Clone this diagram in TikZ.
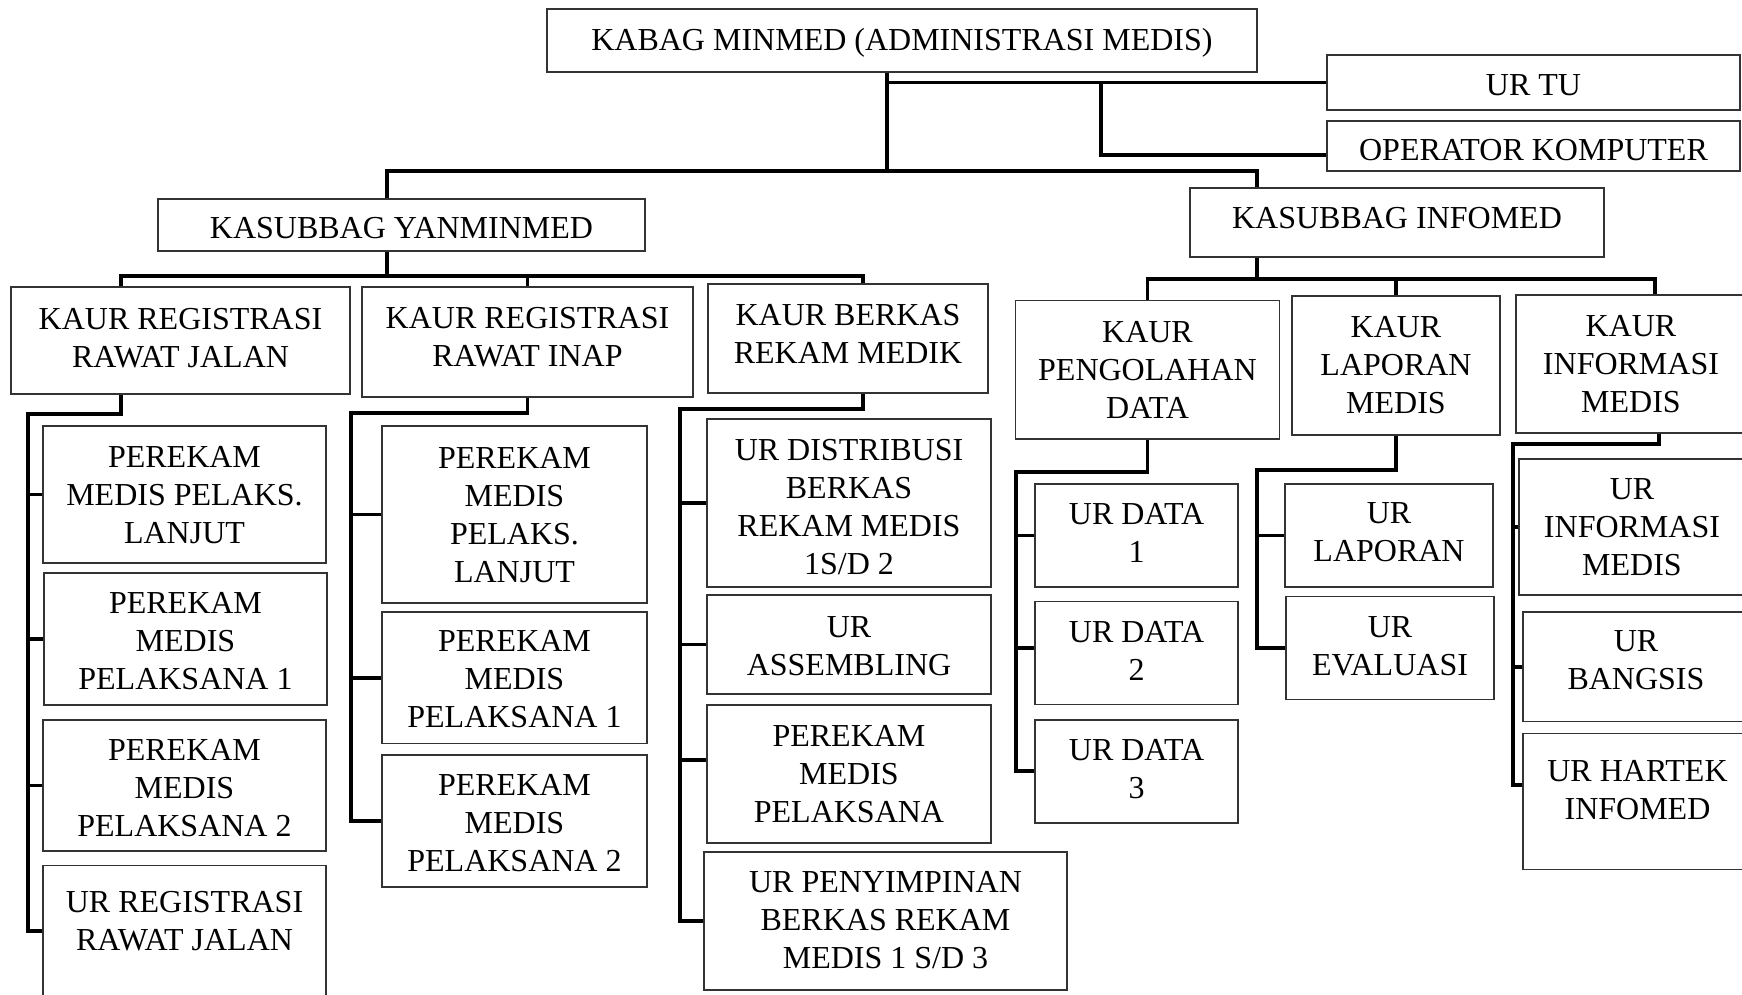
\documentclass[tikz,border=0pt]{standalone}
\usepackage{fontspec}
\setmainfont{Liberation Serif}
\begin{document}
% Unit: one step = 0.5pt, y grows downward
\tikzset{
  box/.style={draw=black!80, line width=0.7pt, inner sep=0pt,
    font=\rmfamily\fontsize{16}{19}\selectfont},
  conn/.style={line width=1.9pt, line join=miter}
}
% \orgbox{name}{x1}{y1}{x2}{y2}{text shift down}{lines}
\newcommand{\orgbox}[7]{%
  \node[box, minimum width={((#4)-(#2))*0.5pt}, minimum height={((#5)-(#3))*0.5pt}]
    (#1) at ({((#2)+(#4))/2},{((#3)+(#5))/2})
    {\raisebox{\fpeval{-((#6)+2.9)*0.5}pt}[\height][\depth]{\begin{tabular}{@{}c@{}}#7\end{tabular}}};%
}
\begin{tikzpicture}[x=0.5pt, y=-0.5pt]
\useasboundingbox (0,0) rectangle (1742,995);
\fill[white] (0,0) rectangle (1742,995);

% top level
\orgbox{kabag}{547}{9}{1257}{72}{0}{KABAG MINMED (ADMINISTRASI MEDIS)}
\orgbox{urtu}{1327}{55}{1740}{110}{2.5}{UR TU}
\orgbox{op}{1327}{121}{1740}{171}{4}{OPERATOR KOMPUTER}
\orgbox{yan}{158}{199}{645}{251}{3}{KASUBBAG YANMINMED}
\orgbox{info}{1190}{188}{1604}{257}{-4.5}{KASUBBAG INFOMED}

% heads of unit
\orgbox{krj}{11}{287}{350}{394}{-3}{KAUR REGISTRASI\\RAWAT JALAN}
\orgbox{kri}{362}{287}{693}{397}{-4.5}{KAUR REGISTRASI\\RAWAT INAP}
\orgbox{kbk}{708}{284}{988}{393}{-4.5}{KAUR BERKAS\\REKAM MEDIK}
\orgbox{kpd}{1015.5}{300.7}{1279.5}{439}{0}{KAUR\\PENGOLAHAN\\DATA}
\orgbox{klm}{1292}{296}{1500}{435}{0}{KAUR\\LAPORAN\\MEDIS}
\orgbox{kim}{1516}{295}{1746}{433}{0}{KAUR\\INFORMASI\\MEDIS}

% registrasi rawat jalan
\orgbox{p11}{43}{426}{326}{563}{0}{PEREKAM\\MEDIS PELAKS.\\LANJUT}
\orgbox{p12}{44}{573}{327}{705}{2}{PEREKAM\\MEDIS\\PELAKSANA 1}
\orgbox{p13}{43}{720}{326}{851}{2}{PEREKAM\\MEDIS\\PELAKSANA 2}
\orgbox{p14}{43}{865.5}{326}{1000}{-11.75}{UR REGISTRASI\\RAWAT JALAN}

% registrasi rawat inap
\orgbox{p21}{382}{426}{647}{603}{0}{PEREKAM\\MEDIS\\PELAKS.\\LANJUT}
\orgbox{p22}{382}{612}{647}{743.5}{1.5}{PEREKAM\\MEDIS\\PELAKSANA 1}
\orgbox{p23}{382}{755}{647}{887}{2}{PEREKAM\\MEDIS\\PELAKSANA 2}

% berkas rekam medik
\orgbox{p31}{707}{419}{991}{587}{4}{UR DISTRIBUSI\\BERKAS\\REKAM MEDIS\\1S/D 2}
\orgbox{p32}{707}{595}{991}{694}{1}{UR\\ASSEMBLING}
\orgbox{p33}{707}{705}{991}{843}{0}{PEREKAM\\MEDIS\\PELAKSANA}
\orgbox{p34}{704}{852}{1067}{990}{-1}{UR PENYIMPINAN\\BERKAS REKAM\\MEDIS 1 S/D 3}

% pengolahan data
\orgbox{d1}{1035}{484}{1238}{587}{-2.5}{UR DATA\\1}
\orgbox{d2}{1035}{601.6}{1238}{704.7}{-2.5}{UR DATA\\2}
\orgbox{d3}{1035}{720}{1238}{823}{-2.7}{UR DATA\\3}

% laporan medis
\orgbox{l1}{1285}{484}{1493}{587}{-3.5}{UR\\LAPORAN}
\orgbox{l2}{1286}{596.5}{1494}{699.6}{-2.5}{UR\\EVALUASI}

% informasi medis
\orgbox{i1}{1519}{459}{1745}{595}{0}{UR\\INFORMASI\\MEDIS}
\orgbox{i2}{1523}{612}{1749}{721.6}{-7}{UR\\BANGSIS}
\orgbox{i3}{1523}{733.7}{1752}{869.4}{-11.5}{UR HARTEK\\INFOMED}

% ---- connectors ----
\coordinate (t0) at (887,171);
\coordinate (hy) at (387,171);
\coordinate (hi) at (1257,171);
\coordinate (tc) at (1101,155);
\draw[conn] (kabag.south -| t0) -- (t0);
\draw[conn] (yan.north -| hy) -- (hy) -- (hi) -- (info.north -| hi);
\draw[conn] (t0 |- urtu.west) -- (urtu.west);
\draw[conn] (tc |- urtu.west) -- (tc) -- (op.west |- tc);

\coordinate (ya) at (387,276);
\coordinate (a1) at (121,276);
\coordinate (a3) at (863,276);
\draw[conn] (yan.south -| ya) -- (ya);
\draw[conn] (krj.north -| a1) -- (a1) -- (a3) -- (kbk.north -| a3);
\draw[conn] (kri.north) -- (kri.north |- ya);

\coordinate (ib) at (1257,279);
\coordinate (b3) at (1655,279);
\draw[conn] (info.south -| ib) -- (ib);
\draw[conn] (kpd.north) -- (kpd.north |- ib) -- (b3) -- (kim.north -| b3);
\draw[conn] (klm.north) -- (klm.north |- ib);

% column: registrasi rawat jalan
\coordinate (c1a) at (121,414);
\coordinate (c1b) at (28,414);
\coordinate (c1c) at (28,931);
\draw[conn] (krj.south -| c1a) -- (c1a) -- (c1b) -- (c1c) -- (p14.west |- c1c);
\foreach \n in {p11,p12,p13} \draw[conn] (c1b |- \n.west) -- (\n.west);

% column: registrasi rawat inap
\coordinate (c2b) at (351,413);
\coordinate (c2c) at (351,821);
\draw[conn] (kri.south) -- (kri.south |- c2b) -- (c2b) -- (c2c) -- (p23.west |- c2c);
\foreach \n in {p21,p22} \draw[conn] (c2b |- \n.west) -- (\n.west);

% column: berkas rekam medik
\coordinate (c3a) at (863,409);
\coordinate (c3b) at (680,409);
\coordinate (c3c) at (680,921);
\coordinate (c3d) at (680,760);
\draw[conn] (kbk.south -| c3a) -- (c3a) -- (c3b) -- (c3c) -- (p34.west |- c3c);
\foreach \n in {p31,p32} \draw[conn] (c3b |- \n.west) -- (\n.west);
\draw[conn] (c3d) -- (p33.west |- c3d);

% column: pengolahan data
\coordinate (c4b) at (1016,472);
\coordinate (c4c) at (1016,771);
\coordinate (c4d) at (1016,648);
\draw[conn] (kpd.south) -- (kpd.south |- c4b) -- (c4b) -- (c4c) -- (d3.west |- c4c);
\draw[conn] (c4b |- d1.west) -- (d1.west);
\draw[conn] (c4d) -- (d2.west |- c4d);

% column: laporan medis
\coordinate (c5b) at (1257,470);
\coordinate (c5c) at (1257,648);
\draw[conn] (klm.south) -- (klm.south |- c5b) -- (c5b) -- (c5c) -- (l2.west |- c5c);
\draw[conn] (c5b |- l1.west) -- (l1.west);

% column: informasi medis
\coordinate (c6a) at (1659,444);
\coordinate (c6b) at (1513,444);
\coordinate (c6c) at (1513,785);
\draw[conn] (kim.south -| c6a) -- (c6a) -- (c6b) -- (c6c) -- (i3.west |- c6c);
\foreach \n in {i1,i2} \draw[conn] (c6b |- \n.west) -- (\n.west);
\end{tikzpicture}
\end{document}
